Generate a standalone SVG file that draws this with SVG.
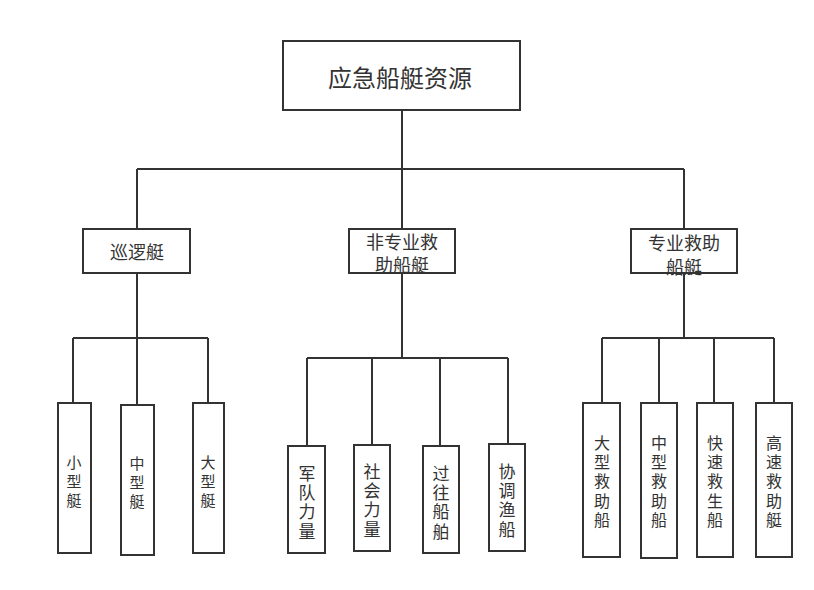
<svg xmlns="http://www.w3.org/2000/svg" width="814" height="590" viewBox="0 0 814 590">
<style>
.box{fill:#fff;stroke:#333;stroke-width:2}
.ln{fill:none;stroke:#333;stroke-width:2}
text{font-family:"Noto Sans CJK SC","Noto Sans",sans-serif;fill:#333;text-anchor:middle;dominant-baseline:central}
.t1{font-size:15px}
.t2{font-size:17px}
.t3{font-size:16px}
</style>
<rect width="814" height="590" fill="#fff"/>
<g id="connectors">
<path class="ln" d="M402,110V169M137,169H684M137,169V229M402,169V229M684,169V229"/>
<path class="ln" d="M137,273V338M73,338H208M73,338V403M137,338V405M208,338V403"/>
<path class="ln" d="M402,273V358M307,358H508M307,358V446M372,358V445M440,358V446M508,358V444"/>
<path class="ln" d="M684,273V338M602,338H774M602,338V403M659,338V403M714,338V403M774,338V403"/>
</g>
<g id="root"><rect class="box" x="283" y="41" width="237" height="69"/><text x="400" y="76" style="font-size:24px">应急船艇资源</text></g>
<g id="patrol"><rect class="box" x="83" y="229" width="107" height="44"/><text x="137" y="251" style="font-size:18px">巡逻艇</text></g>
<g id="nonpro"><rect class="box" x="349" y="229" width="106" height="44"/><text x="402" y="241" style="font-size:18px">非专业救</text><text x="402" y="264" style="font-size:18px">助船艇</text></g>
<g id="pro"><rect class="box" x="631" y="229" width="106" height="44"/><text x="684" y="242" style="font-size:18px">专业救助</text><text x="684" y="266" style="font-size:18px">船艇</text></g>
<g id="small"><rect class="box" x="58" y="403" width="33" height="150"/><text class="t1" x="74" y="461">小<tspan x="74" dy="19">型</tspan><tspan x="74" dy="19">艇</tspan></text></g>
<g id="medium"><rect class="box" x="121" y="405" width="33" height="150"/><text class="t1" x="137" y="462">中<tspan x="137" dy="19">型</tspan><tspan x="137" dy="19">艇</tspan></text></g>
<g id="large"><rect class="box" x="193" y="403" width="31" height="150"/><text class="t1" x="208" y="461">大<tspan x="208" dy="19">型</tspan><tspan x="208" dy="19">艇</tspan></text></g>
<g id="military"><rect class="box" x="288" y="446" width="37" height="107"/><text class="t2" x="307" y="472">军<tspan x="307" dy="19.2">队</tspan><tspan x="307" dy="19.2">力</tspan><tspan x="307" dy="19.2">量</tspan></text></g>
<g id="social"><rect class="box" x="354" y="445" width="36" height="106"/><text class="t2" x="372" y="470">社<tspan x="372" dy="19.2">会</tspan><tspan x="372" dy="19.2">力</tspan><tspan x="372" dy="19.2">量</tspan></text></g>
<g id="passing"><rect class="box" x="423" y="446" width="36" height="107"/><text class="t2" x="441" y="472">过<tspan x="441" dy="19.2">往</tspan><tspan x="441" dy="19.2">船</tspan><tspan x="441" dy="19.2">舶</tspan></text></g>
<g id="fishing"><rect class="box" x="489" y="444" width="36" height="107"/><text class="t2" x="507" y="470">协<tspan x="507" dy="19.2">调</tspan><tspan x="507" dy="19.2">渔</tspan><tspan x="507" dy="19.2">船</tspan></text></g>
<g id="largeRescue"><rect class="box" x="583" y="403" width="37" height="154"/><text class="t3" x="602" y="442">大<tspan x="602" dy="19.2">型</tspan><tspan x="602" dy="19.2">救</tspan><tspan x="602" dy="19.2">助</tspan><tspan x="602" dy="19.2">船</tspan></text></g>
<g id="mediumRescue"><rect class="box" x="641" y="403" width="36" height="155"/><text class="t3" x="659" y="442">中<tspan x="659" dy="19.2">型</tspan><tspan x="659" dy="19.2">救</tspan><tspan x="659" dy="19.2">助</tspan><tspan x="659" dy="19.2">船</tspan></text></g>
<g id="fastLifeboat"><rect class="box" x="697" y="403" width="36" height="154"/><text class="t3" x="715" y="442">快<tspan x="715" dy="19.2">速</tspan><tspan x="715" dy="19.2">救</tspan><tspan x="715" dy="19.2">生</tspan><tspan x="715" dy="19.2">船</tspan></text></g>
<g id="fastRescue"><rect class="box" x="756" y="403" width="36" height="154"/><text class="t3" x="774" y="442">高<tspan x="774" dy="19.2">速</tspan><tspan x="774" dy="19.2">救</tspan><tspan x="774" dy="19.2">助</tspan><tspan x="774" dy="19.2">艇</tspan></text></g>
</svg>
